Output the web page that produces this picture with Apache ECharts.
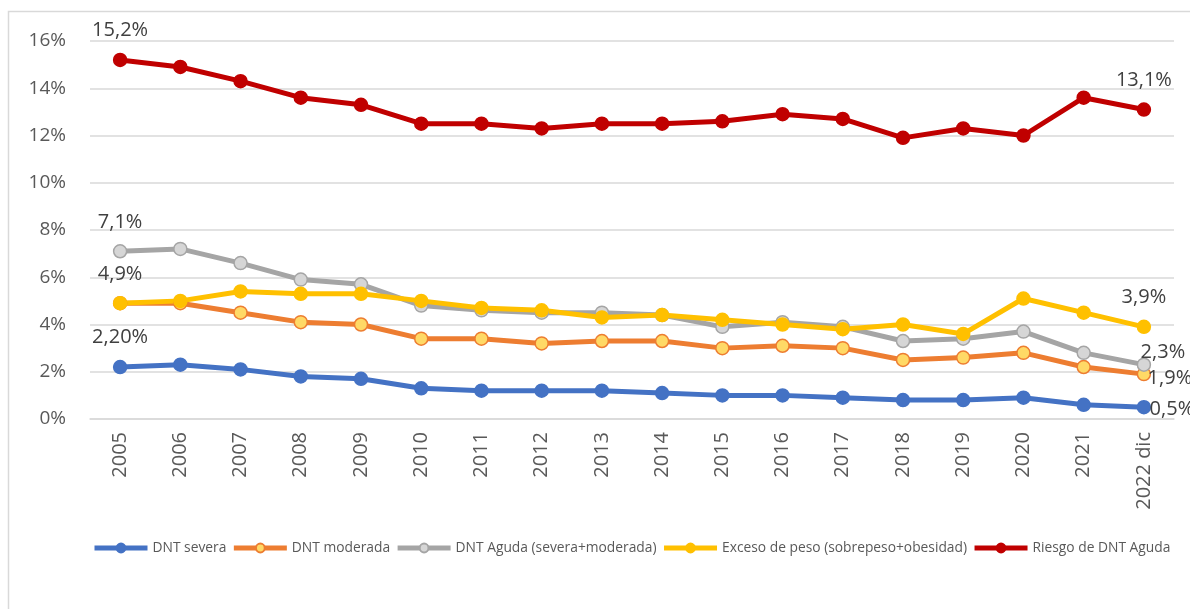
<!DOCTYPE html>
<html>
<head>
<meta charset="utf-8">
<script src="https://cdn.jsdelivr.net/npm/echarts@6/dist/echarts.min.js"></script>
<style>
  html, body { margin: 0; padding: 0; background: #fff; }
  #chart { width: 1190px; height: 609px; }
</style>
</head>
<body>
<div id="chart"></div>
<script>
// Years on the category axis
const years = ['2005', '2006', '2007', '2008', '2009', '2010', '2011', '2012', '2013',
  '2014', '2015', '2016', '2017', '2018', '2019', '2020', '2021', '2022 dic'];

// Prevalence (%) per indicator
const dntSevera   = [2.2, 2.3, 2.1, 1.8, 1.7, 1.3, 1.2, 1.2, 1.2, 1.1, 1.0, 1.0, 0.9, 0.8, 0.8, 0.9, 0.6, 0.5];
const dntModerada = [4.9, 4.9, 4.5, 4.1, 4.0, 3.4, 3.4, 3.2, 3.3, 3.3, 3.0, 3.1, 3.0, 2.5, 2.6, 2.8, 2.2, 1.9];
const dntAguda    = [7.1, 7.2, 6.6, 5.9, 5.7, 4.8, 4.6, 4.5, 4.5, 4.4, 3.9, 4.1, 3.9, 3.3, 3.4, 3.7, 2.8, 2.3];
const excesoPeso  = [4.9, 5.0, 5.4, 5.3, 5.3, 5.0, 4.7, 4.6, 4.3, 4.4, 4.2, 4.0, 3.8, 4.0, 3.6, 5.1, 4.5, 3.9];
const riesgoDnt   = [15.2, 14.9, 14.3, 13.6, 13.3, 12.5, 12.5, 12.3, 12.5, 12.5, 12.6, 12.9, 12.7, 11.9, 12.3, 12.0, 13.6, 13.1];

// Y-axis ticks
const yTicks = [0, 2, 4, 6, 8, 10, 12, 14, 16];

const FONT = '"Open Sans", "Noto Sans", sans-serif';
const TXT = '#595959';
const LBL = '#404040';

// Spanish-style percentage text
function pct(v, dec) {
  return v.toFixed(dec).replace('.', ',') + '%';
}

// Which points carry a value label, and how it sits
const topLabel = { show: true, position: 'top', distance: 12 };
function build(values, marks) {
  return values.map((v, i) => {
    const m = marks[i];
    if (!m) return v;
    return {
      value: v,
      label: Object.assign({
        color: LBL, fontSize: 20, fontFamily: FONT,
        formatter: () => pct(v, m.dec)
      }, m.style)
    };
  });
}

const last = years.length - 1;
const series = [
  { name: 'DNT severa', color: '#4472c4', fill: '#4472c4', border: '#4472c4', values: dntSevera,
    marks: { 0: { dec: 2, style: topLabel },
             [last]: { dec: 1, style: { show: true, position: 'inside', offset: [28, 2] } } } },
  { name: 'DNT moderada', color: '#ed7d31', fill: '#ffd966', border: '#ed7d31', values: dntModerada,
    marks: { [last]: { dec: 1, style: { show: true, position: 'inside', offset: [26, 4] } } } },
  { name: 'DNT Aguda (severa+moderada)', color: '#a5a5a5', fill: '#d6d6d6', border: '#a5a5a5', values: dntAguda,
    marks: { 0: { dec: 1, style: topLabel },
             [last]: { dec: 1, style: { show: true, position: 'inside', offset: [19, -12] } } } },
  { name: 'Exceso de peso (sobrepeso+obesidad)', color: '#ffc000', fill: '#ffc000', border: '#ffc000', values: excesoPeso,
    marks: { 0: { dec: 1, style: topLabel }, [last]: { dec: 1, style: topLabel } } },
  { name: 'Riesgo de DNT Aguda', color: '#c00000', fill: '#c00000', border: '#c00000', values: riesgoDnt,
    marks: { 0: { dec: 1, style: topLabel }, [last]: { dec: 1, style: topLabel } } }
];

const chart = echarts.init(document.getElementById('chart'), null, { renderer: 'canvas' });

chart.setOption({
  backgroundColor: '#ffffff',
  animation: false,
  graphic: [{
    type: 'rect',
    shape: { x: 8.5, y: 11.5, width: 1200, height: 620 },
    style: { fill: 'none', stroke: '#d9d9d9', lineWidth: 1.5 },
    silent: true, z: -1
  }],
  grid: { left: 90, right: 16, top: 41, bottom: 190, containLabel: false },
  legend: {
    top: 541,
    left: 92,
    padding: 0,
    width: 1095,
    itemWidth: 53,
    itemHeight: 11,
    itemGap: 5,
    lineStyle: { width: 5 },
    textStyle: { color: TXT, fontSize: 13.8, fontFamily: FONT },
    data: series.map(s => s.name)
  },
  xAxis: {
    type: 'category',
    data: years,
    boundaryGap: true,
    axisLine: { show: true, lineStyle: { color: '#d9d9d9', width: 1.5 } },
    axisTick: { show: false },
    axisLabel: { rotate: 90, color: TXT, fontSize: 20, fontFamily: FONT, margin: 13, interval: 0 }
  },
  yAxis: {
    type: 'value',
    min: yTicks[0],
    max: yTicks[yTicks.length - 1],
    interval: yTicks[1] - yTicks[0],
    axisLine: { show: false },
    axisTick: { show: false },
    splitLine: { lineStyle: { color: '#d9d9d9', width: 1.5 } },
    axisLabel: { color: TXT, fontSize: 19, fontFamily: FONT, margin: 24, formatter: v => v + '%' }
  },
  series: series.map(s => ({
    name: s.name,
    type: 'line',
    data: build(s.values, s.marks),
    symbol: 'circle',
    symbolSize: 13,
    showAllSymbol: true,
    color: s.color,
    lineStyle: { color: s.color, width: 5 },
    itemStyle: { color: s.fill, borderColor: s.border, borderWidth: 1.5 },
    label: { show: false },
    emphasis: { disabled: true }
  }))
});
</script>
</body>
</html>
